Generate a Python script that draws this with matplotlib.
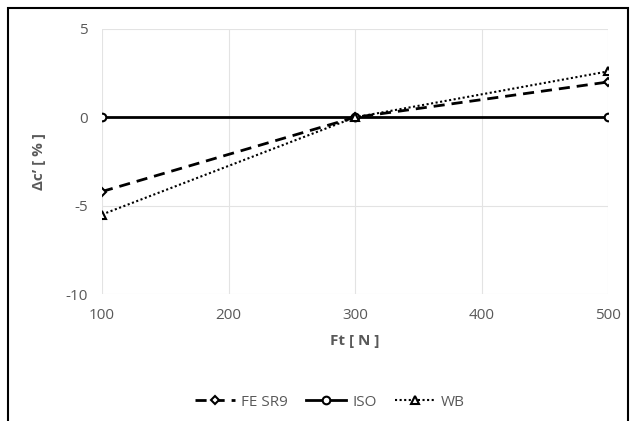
import matplotlib.pyplot as plt
from matplotlib.patches import Rectangle

# data
ft = [100, 300, 500]
fe_sr9 = [-4.2, 0.0, 2.0]
iso = [0.0, 0.0, 0.0]
wb = [-5.5, 0.0, 2.6]

grey = '#595959'
plt.rcParams['font.family'] = ['Open Sans', 'DejaVu Sans']
plt.rcParams['axes.unicode_minus'] = False

fig = plt.figure(figsize=(6.35, 4.21), dpi=100)
ax = fig.add_axes([102/635, 1 - 294/421, (608 - 102)/635, (294 - 29)/421])

ax.plot(ft, fe_sr9, color='black', lw=2, ls=(0, (4, 2.5)), marker='D', ms=4.5,
        mfc='white', mec='black', mew=1.5, label='FE SR9', zorder=3)
ax.plot(ft, iso, color='black', lw=2, ls='-', marker='o', ms=5.5,
        mfc='white', mec='black', mew=1.5, label='ISO', zorder=3)
ax.plot(ft, wb, color='black', lw=1.5, ls=(0, (1, 1.2)), marker='^', ms=5.5,
        mfc='white', mec='black', mew=1.5, label='WB', zorder=3)

ax.set_xlim(100, 500)
ax.set_ylim(-10, 5)
ax.set_xticks([100, 200, 300, 400, 500])
ax.set_yticks([-10, -5, 0, 5])
ax.grid(True, color='#e3e3e3', lw=0.8)
ax.set_axisbelow(True)
for s in ax.spines.values():
    s.set_visible(False)
ax.tick_params(length=0, labelsize=11, colors=grey, pad=10)

ax.set_xlabel('Ft [ N ]', fontsize=11, fontweight='bold', color=grey, labelpad=8)
ax.set_ylabel('Δc’ [ % ]', fontsize=11, fontweight='bold', color=grey, labelpad=14)

leg = ax.legend(loc='center', bbox_to_anchor=(330/635, 1 - 402/421),
                bbox_transform=fig.transFigure, ncol=3, frameon=False,
                fontsize=11, handlelength=2.6, columnspacing=1.2, handletextpad=0.4)
for t in leg.get_texts():
    t.set_color(grey)

# outer frame (open at the bottom)
fig.patches.append(Rectangle((8/635, -0.05), 620/635, 1.05 - 8/421,
                             transform=fig.transFigure, fill=False,
                             edgecolor='black', lw=1.5))

fig.savefig('out.png', dpi=100)
